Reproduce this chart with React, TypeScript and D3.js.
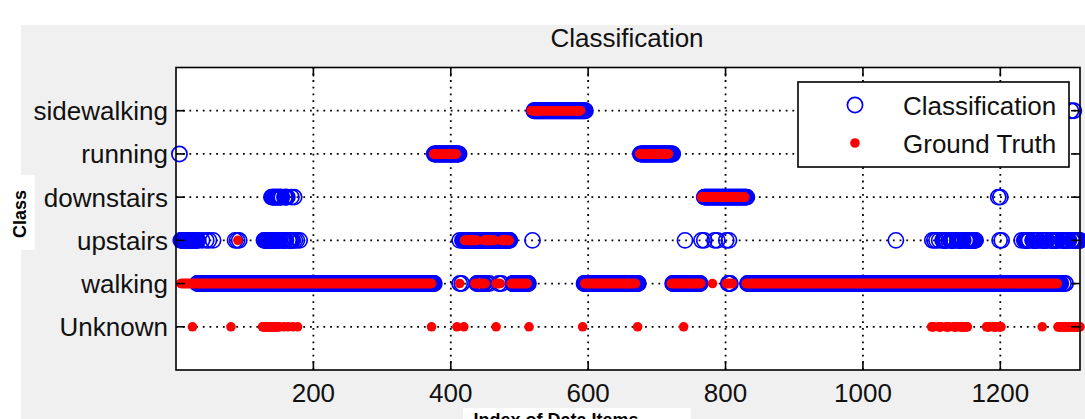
import React from "react";
import * as d3 from "d3";

const categories = ["Unknown", "walking", "upstairs", "downstairs", "running", "sidewalking"];
const xTicks = [200, 400, 600, 800, 1000, 1200];

// runs: [classIndex, firstIndex, lastIndex]
const classificationRuns: [number, number, number][] = [
  [4, 5, 5], [4, 376, 412], [4, 676, 723],
  [5, 521, 596], [5, 1303, 1303], [5, 1307, 1307],
  [3, 139, 154], [3, 158, 162], [3, 168, 168], [3, 172, 172], [3, 769, 831], [3, 1197, 1197], [3, 1200, 1200],
  [2, 7, 32], [2, 38, 38], [2, 44, 44], [2, 48, 48], [2, 54, 54], [2, 86, 86], [2, 89, 89], [2, 92, 92],
  [2, 128, 150], [2, 154, 160], [2, 164, 170], [2, 173, 173], [2, 176, 176], [2, 180, 180],
  [2, 413, 413], [2, 417, 486], [2, 519, 519],
  [2, 741, 741], [2, 765, 765], [2, 769, 769], [2, 784, 784], [2, 788, 788], [2, 801, 801], [2, 805, 805],
  [2, 1048, 1048], [2, 1101, 1101], [2, 1104, 1104], [2, 1107, 1107], [2, 1111, 1111], [2, 1116, 1122],
  [2, 1127, 1133], [2, 1138, 1146], [2, 1150, 1164], [2, 1199, 1199], [2, 1202, 1202],
  [2, 1231, 1231], [2, 1235, 1242], [2, 1247, 1255], [2, 1260, 1268], [2, 1273, 1284], [2, 1289, 1300], [2, 1304, 1316],
  [1, 31, 376], [1, 413, 413], [1, 416, 416], [1, 438, 448], [1, 452, 452], [1, 456, 456], [1, 470, 470],
  [1, 474, 474], [1, 490, 513], [1, 594, 673], [1, 723, 763], [1, 804, 807], [1, 832, 1288], [1, 1292, 1292], [1, 1295, 1295],
];

const groundTruthRuns: [number, number, number][] = [
  [1, 7, 372], [1, 413, 413], [1, 435, 450], [1, 466, 472], [1, 488, 511], [1, 595, 669], [1, 721, 764],
  [1, 781, 781], [1, 801, 810], [1, 830, 1283],
  [2, 90, 90], [2, 420, 438], [2, 448, 464], [2, 474, 485],
  [3, 765, 778], [3, 782, 805], [3, 809, 828],
  [4, 375, 408], [4, 675, 717],
  [5, 517, 589],
  [0, 24, 24], [0, 80, 80], [0, 126, 150], [0, 157, 157], [0, 163, 163], [0, 170, 170], [0, 177, 177],
  [0, 372, 372], [0, 409, 409], [0, 419, 419], [0, 466, 466], [0, 514, 514], [0, 592, 592], [0, 672, 672],
  [0, 739, 739], [0, 1100, 1103], [0, 1110, 1114], [0, 1121, 1125], [0, 1132, 1136], [0, 1141, 1152],
  [0, 1180, 1184], [0, 1190, 1194], [0, 1198, 1201], [0, 1261, 1261], [0, 1284, 1316],
];

function expand(runs: [number, number, number][]) {
  const pts: { i: number; c: number }[] = [];
  runs.forEach(([c, a, b]) => {
    for (let i = a; i <= b; i++) pts.push({ i, c });
  });
  return pts;
}

const W = 1085;
const H = 419;
const L = 176, R = 1080, T = 67.5, B = 370;
const FONT = "'Liberation Sans', Arial, sans-serif";

export default function App() {
  const x = d3.scaleLinear().domain([0, 1316]).range([L, R]);
  const y = d3.scaleLinear().domain([-1, 6]).range([B, T]);
  const cls = expand(classificationRuns);
  const gt = expand(groundTruthRuns);
  const yTicks = d3.range(categories.length);
  const tick = 9;
  return (
    <svg width={W} height={H} style={{ position: "absolute", left: 0, top: 0 }} fontFamily={FONT}>
      <rect x={0} y={0} width={W} height={H} fill="#ffffff" />
      <rect x={21} y={25} width={W - 21} height={H - 25} fill="#f0f0f0" />
      <rect x={0} y={175} width={35} height={75} fill="#ffffff" />
      <rect x={463} y={408} width={228} height={20} fill="#ffffff" />
      <text x={627} y={47} fontSize={26} textAnchor="middle" fill="#111">Classification</text>
      <rect x={L} y={T} width={R - L} height={B - T} fill="#ffffff" />
      {/* grid */}
      {xTicks.map((t) => (
        <line key={"gx" + t} x1={x(t)} x2={x(t)} y1={B} y2={T} stroke="#000" strokeWidth={1.8} strokeDasharray="1.8 4.9" />
      ))}
      {yTicks.map((t) => (
        <line key={"gy" + t} x1={L} x2={R} y1={y(t)} y2={y(t)} stroke="#000" strokeWidth={1.8} strokeDasharray="1.8 4.9" />
      ))}
      {/* data */}
      <g fill="none" stroke="#0000ff" strokeWidth={1.7}>
        {cls.map((p, k) => (
          <circle key={k} cx={x(p.i)} cy={y(p.c)} r={7.6} />
        ))}
      </g>
      <g fill="#ff0000">
        {gt.map((p, k) => (
          <circle key={k} cx={x(p.i)} cy={y(p.c)} r={4.8} />
        ))}
      </g>
      {/* axes box and ticks */}
      <rect x={L} y={T} width={R - L} height={B - T} fill="none" stroke="#000" strokeWidth={1.6} />
      {xTicks.map((t) => (
        <g key={"tx" + t}>
          <line x1={x(t)} x2={x(t)} y1={B} y2={B - tick} stroke="#000" strokeWidth={1.6} />
          <line x1={x(t)} x2={x(t)} y1={T} y2={T + tick} stroke="#000" strokeWidth={1.6} />
          <text x={x(t)} y={402} fontSize={26} textAnchor="middle" fill="#111">{t}</text>
        </g>
      ))}
      {yTicks.map((t) => (
        <g key={"ty" + t}>
          <line x1={L} x2={L + tick} y1={y(t)} y2={y(t)} stroke="#000" strokeWidth={1.6} />
          <line x1={R} x2={R - tick} y1={y(t)} y2={y(t)} stroke="#000" strokeWidth={1.6} />
          <text x={168} y={y(t) + 9.5} fontSize={26} textAnchor="end" fill="#111">{categories[t]}</text>
        </g>
      ))}
      {/* axis labels */}
      <text transform="translate(26,214) rotate(-90)" fontSize={18} fontWeight="bold" textAnchor="middle" fill="#000">Class</text>
      <text x={556} y={426} fontSize={18} fontWeight="bold" textAnchor="middle" fill="#000">Index of Data Items</text>
      {/* legend */}
      <rect x={798} y={82} width={271} height={85} fill="#ffffff" stroke="#000" strokeWidth={1.6} />
      <circle cx={855} cy={105} r={7.6} fill="none" stroke="#0000ff" strokeWidth={1.7} />
      <circle cx={855} cy={143} r={4.8} fill="#ff0000" />
      <text x={903} y={115} fontSize={26} fill="#111">Classification</text>
      <text x={903} y={153} fontSize={26} fill="#111">Ground Truth</text>
    </svg>
  );
}
